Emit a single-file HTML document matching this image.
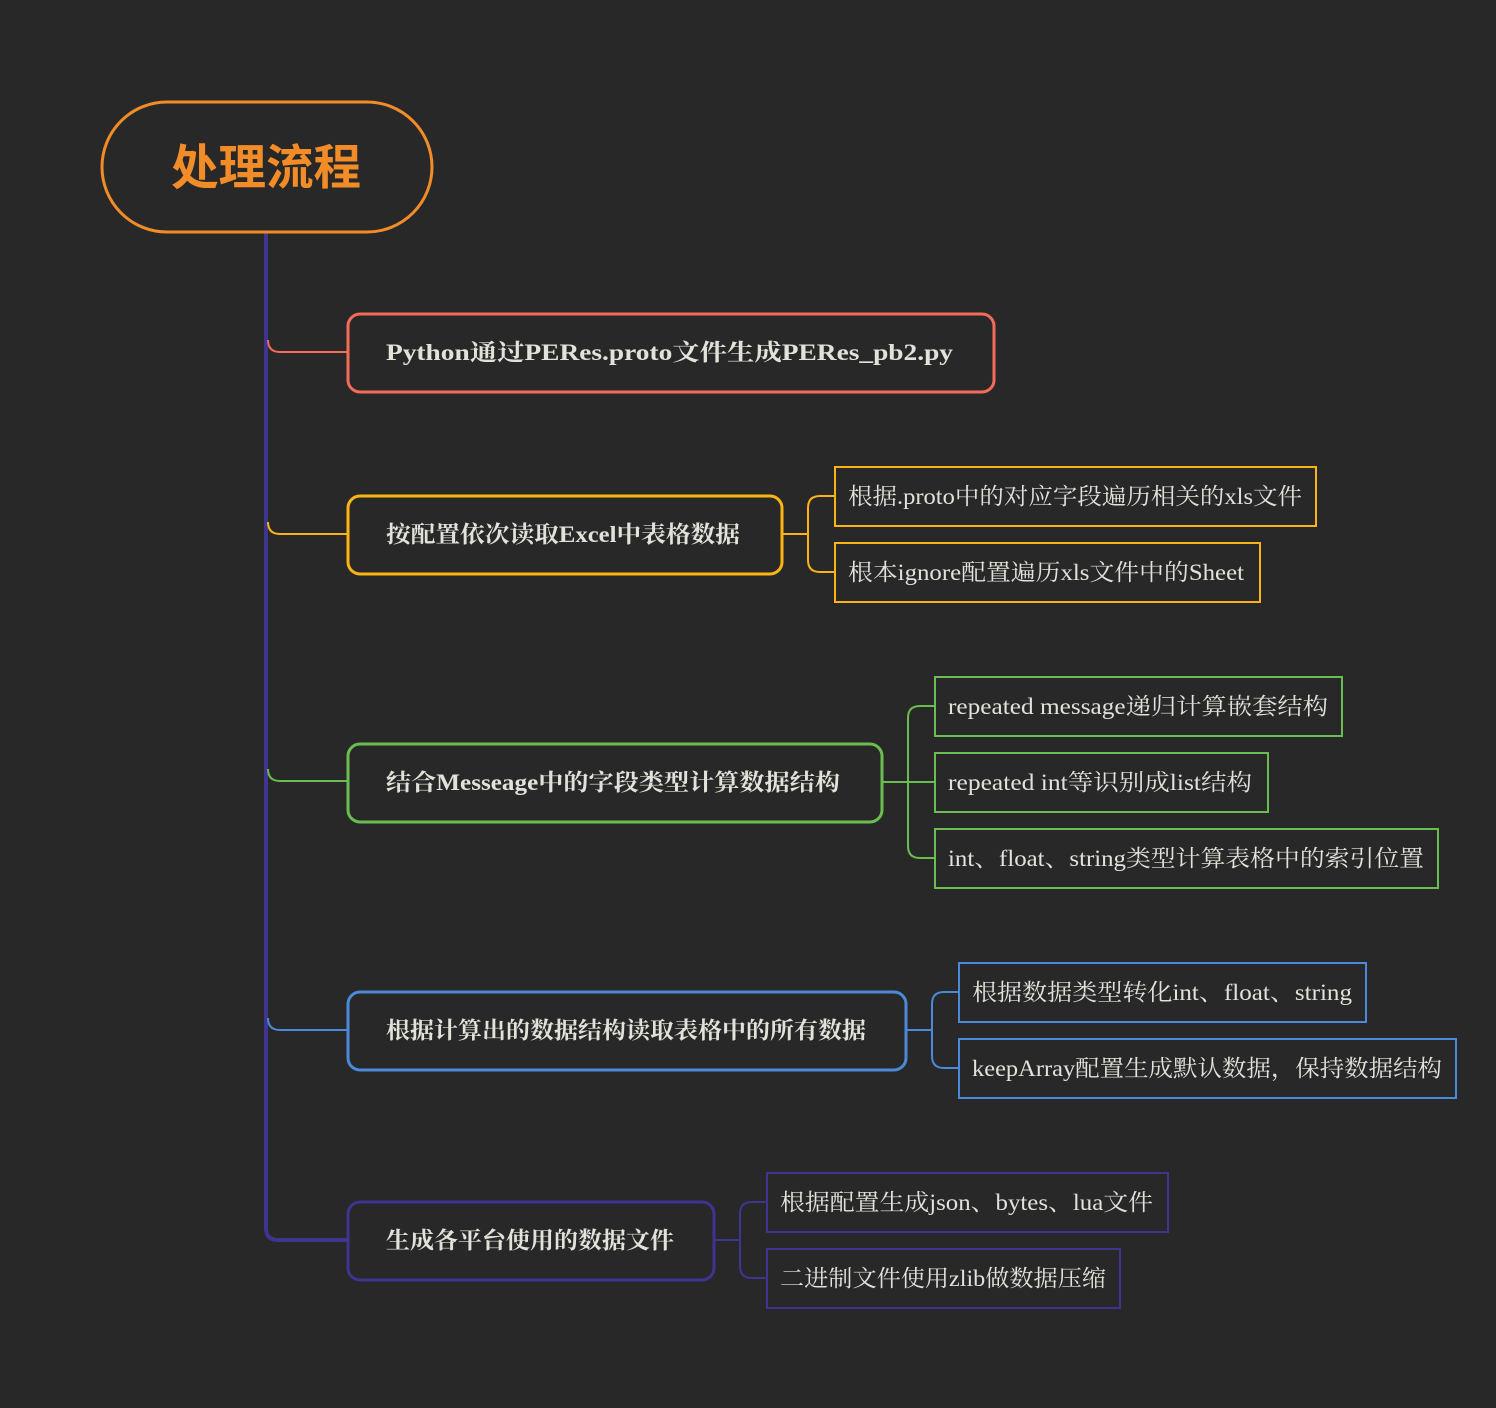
<!DOCTYPE html>
<html><head><meta charset="utf-8"><style>
html,body{margin:0;padding:0;background:#282828;}
svg{display:block}
.m{font-family:"Liberation Serif","Noto Serif CJK SC",serif;font-weight:bold;font-size:23px;fill:#e2e2da}
.c{font-family:"Liberation Serif","Noto Serif CJK SC",serif;font-size:23px;fill:#e2e2da}
</style></head><body>
<svg width="1496" height="1408" viewBox="0 0 1496 1408" xmlns="http://www.w3.org/2000/svg">
<rect width="1496" height="1408" fill="#282828"/>
<path d="M266,232 V1228 Q266,1240 278,1240 H348" fill="none" stroke="#3d3590" stroke-width="4"/>
<path d="M268,340 Q268,352 280,352 H348" fill="none" stroke="#f26b5b" stroke-width="2"/>
<path d="M268,522 Q268,534 280,534 H348" fill="none" stroke="#fbb414" stroke-width="2"/>
<path d="M268,769 Q268,781 280,781 H348" fill="none" stroke="#6abd4f" stroke-width="2"/>
<path d="M268,1018 Q268,1030 280,1030 H348" fill="none" stroke="#4a8ad8" stroke-width="2"/>
<rect x="102" y="102" width="330" height="130" rx="65" fill="#282828" stroke="#f28c28" stroke-width="3"/>
<text x="171" y="184" textLength="190" lengthAdjust="spacingAndGlyphs" font-family="'Noto Sans CJK SC',sans-serif" font-weight="bold" font-size="48" fill="#f28c28">处理流程</text>
<rect x="348" y="314" width="646" height="78" rx="12" fill="#282828" stroke="#f26b5b" stroke-width="3"/>
<text class="m" x="386" y="360" textLength="567" lengthAdjust="spacingAndGlyphs">Python通过PERes.proto文件生成PERes_pb2.py</text>
<rect x="348" y="496" width="434" height="78" rx="12" fill="#282828" stroke="#fbb414" stroke-width="3"/>
<text class="m" x="386" y="542" textLength="354" lengthAdjust="spacingAndGlyphs">按配置依次读取Excel中表格数据</text>
<rect x="348" y="744" width="534" height="78" rx="12" fill="#282828" stroke="#6abd4f" stroke-width="3"/>
<text class="m" x="386" y="790" textLength="454" lengthAdjust="spacingAndGlyphs">结合Messeage中的字段类型计算数据结构</text>
<rect x="348" y="992" width="558" height="78" rx="12" fill="#282828" stroke="#4a8ad8" stroke-width="3"/>
<text class="m" x="386" y="1038" textLength="480" lengthAdjust="spacingAndGlyphs">根据计算出的数据结构读取表格中的所有数据</text>
<rect x="348" y="1202" width="366" height="78" rx="12" fill="#282828" stroke="#3d3590" stroke-width="3"/>
<text class="m" x="386" y="1248" textLength="288" lengthAdjust="spacingAndGlyphs">生成各平台使用的数据文件</text>
<g fill="none" stroke="#fbb414" stroke-width="2">
<path d="M782,534 H808"/><path d="M835,496 H820 Q808,496 808,508 V560 Q808,572 820,572 H835"/>
<rect x="835" y="467" width="481" height="59"/><rect x="835" y="543" width="425" height="59"/>
</g>
<text class="c" x="848" y="504" textLength="454" lengthAdjust="spacingAndGlyphs">根据.proto中的对应字段遍历相关的xls文件</text>
<text class="c" x="848" y="580" textLength="396" lengthAdjust="spacingAndGlyphs">根本ignore配置遍历xls文件中的Sheet</text>
<g fill="none" stroke="#6abd4f" stroke-width="2">
<path d="M882,782 H935"/><path d="M935,706 H920 Q908,706 908,718 V846 Q908,858 920,858 H935"/>
<rect x="935" y="677" width="407" height="59"/><rect x="935" y="753" width="333" height="59"/><rect x="935" y="829" width="503" height="59"/>
</g>
<text class="c" x="948" y="714" textLength="380" lengthAdjust="spacingAndGlyphs">repeated message递归计算嵌套结构</text>
<text class="c" x="948" y="790" textLength="304" lengthAdjust="spacingAndGlyphs">repeated int等识别成list结构</text>
<text class="c" x="948" y="866" textLength="476" lengthAdjust="spacingAndGlyphs">int、float、string类型计算表格中的索引位置</text>
<g fill="none" stroke="#4a8ad8" stroke-width="2">
<path d="M906,1030 H932"/><path d="M959,992 H944 Q932,992 932,1004 V1056 Q932,1068 944,1068 H959"/>
<rect x="959" y="963" width="407" height="59"/><rect x="959" y="1039" width="497" height="59"/>
</g>
<text class="c" x="972" y="1000" textLength="380" lengthAdjust="spacingAndGlyphs">根据数据类型转化int、float、string</text>
<text class="c" x="972" y="1076" textLength="470" lengthAdjust="spacingAndGlyphs">keepArray配置生成默认数据，保持数据结构</text>
<g fill="none" stroke="#3d3590" stroke-width="2">
<path d="M714,1240 H740"/><path d="M767,1202 H752 Q740,1202 740,1214 V1266 Q740,1278 752,1278 H767"/>
<rect x="767" y="1173" width="401" height="59"/><rect x="767" y="1249" width="353" height="59"/>
</g>
<text class="c" x="780" y="1210" textLength="373" lengthAdjust="spacingAndGlyphs">根据配置生成json、bytes、lua文件</text>
<text class="c" x="780" y="1286" textLength="326" lengthAdjust="spacingAndGlyphs">二进制文件使用zlib做数据压缩</text>
</svg>
</body></html>
